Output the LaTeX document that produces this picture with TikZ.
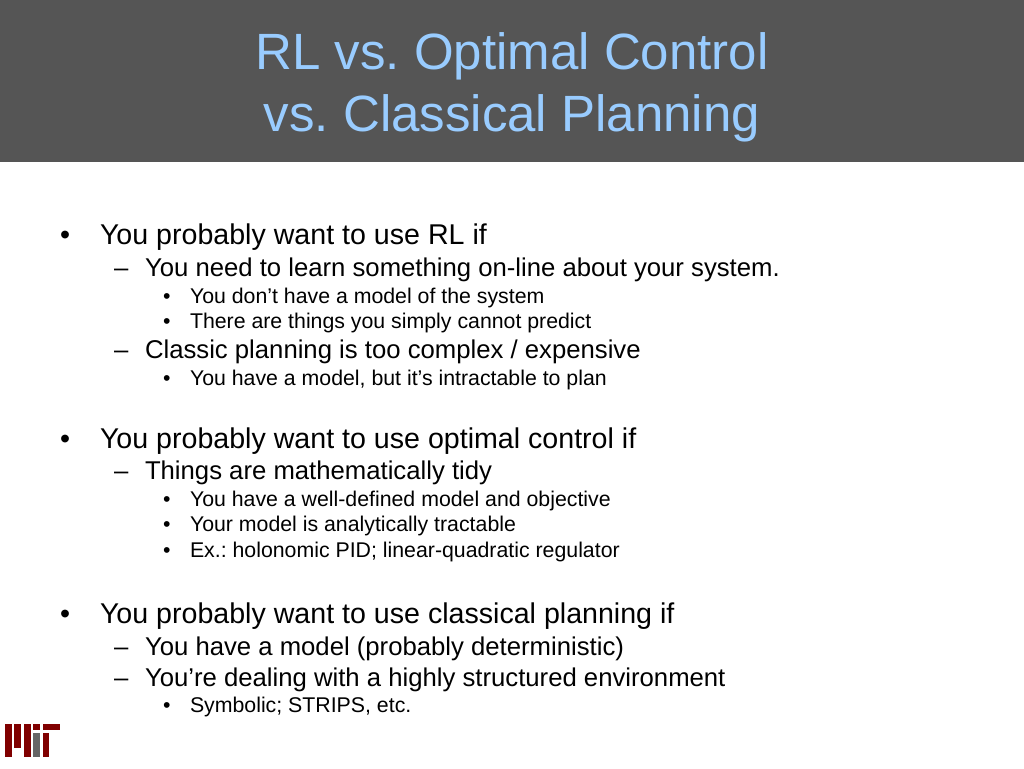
\documentclass[tikz,border=0pt]{standalone}
\usepackage{fontspec}
\setmainfont{Liberation Sans}
\definecolor{band}{RGB}{85,85,85}
\definecolor{ttl}{RGB}{153,204,255}
\definecolor{mitred}{RGB}{128,0,0}
\definecolor{mitgray}{RGB}{102,102,102}
\tikzset{
 x=1pt,y=-1pt,
 txt/.style={anchor=base west,inner sep=0pt,outer sep=0pt,text=black},
 la/.style={txt,font=\fontsize{28.6}{28.6}\selectfont},
 lb/.style={txt,font=\fontsize{25.7}{25.7}\selectfont},
 lc/.style={txt,font=\fontsize{21.3}{21.3}\selectfont},
 ttlt/.style={anchor=base,inner sep=0pt,text=ttl,font=\fontsize{51}{51}\selectfont},
}
\begin{document}
\frenchspacing
\begin{tikzpicture}
\useasboundingbox (0,0) rectangle (1024,768);
\fill[white] (0,0) rectangle (1024,768);
\fill[band] (0,0) rectangle (1024,162);
\node[ttlt] (t1) at (512,70) {RL vs. Optimal Control};
\node[ttlt] (t2) at (512,131) {vs. Classical Planning};
\foreach \n/\x/\y/\s/\t in {
 a/100/244/la/{You probably want to use RL if},
 b/145/276/lb/{You need to learn something on-line about your system.},
 c/190/303/lc/{You don’t have a model of the system},
 d/190/328/lc/{There are things you simply cannot predict},
 e/145/358/lb/{Classic planning is too complex / expensive},
 f/190/385/lc/{You have a model, but it’s intractable to plan},
 g/100/448/la/{You probably want to use optimal control if},
 h/145/479/lb/{Things are mathematically tidy},
 i/190/506/lc/{You have a well-defined model and objective},
 j/190/531/lc/{Your model is analytically tractable},
 k/190/557/lc/{Ex.: holonomic PID; linear-quadratic regulator},
 l/100/623/la/{You probably want to use classical planning if},
 m/145/655/lb/{You have a model (probably deterministic)},
 n/145/686/lb/{You’re dealing with a highly structured environment},
 o/190/712/lc/{Symbolic; STRIPS, etc.}}
 {\node[\s] (\n) at (\x,\y) {\t};}
\foreach \n/\x/\y/\s/\t in {
 ba/60/244/la/•, bb/114/276/lb/–, bc/163/303/lc/•, bd/163/328/lc/•, be/114/358/lb/–, bf/163/385/lc/•,
 bg/60/448/la/•, bh/114/479/lb/–, bi/163/506/lc/•, bj/163/531/lc/•, bk/163/557/lc/•,
 bl/60/623/la/•, bm/114/655/lb/–, bn/114/686/lb/–, bo/163/712/lc/•}
 {\node[\s] (\n) at (\x,\y) {\t};}
\fill[mitred] (5,723.5) rectangle (11.8,757.3);
\fill[mitred] (14.3,723.5) rectangle (21,748);
\fill[mitred] (24,723.5) rectangle (30.7,757.3);
\fill[mitred] (33.3,723.5) rectangle (40,730);
\fill[mitgray] (33.3,732.7) rectangle (40,757.3);
\fill[mitred] (42.7,723.5) rectangle (60,730);
\fill[mitred] (42.7,732.7) rectangle (49.3,757.3);
\end{tikzpicture}
\end{document}
